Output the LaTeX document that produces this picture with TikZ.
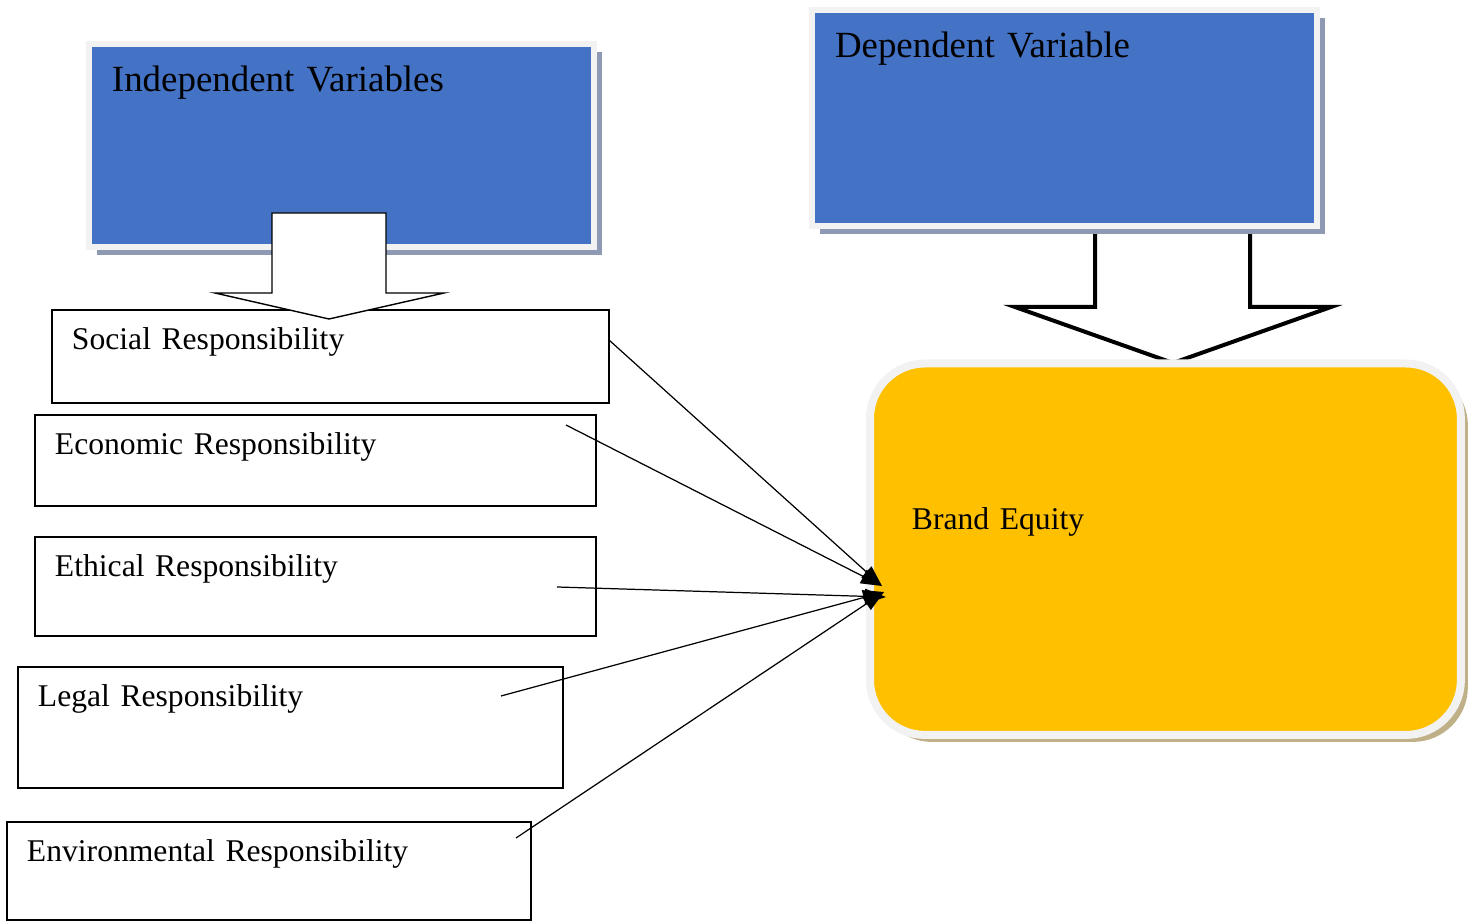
\documentclass[tikz,border=0pt]{standalone}
\usepackage{fontspec}
\setmainfont{Liberation Serif}
\usetikzlibrary{shadows,arrows.meta}

\definecolor{varblue}{HTML}{4472C4}
\definecolor{varshade}{HTML}{8E9AB4}
\definecolor{bandgray}{HTML}{F2F2F2}
\definecolor{beyellow}{HTML}{FFC000}
\definecolor{beshade}{HTML}{C0B088}

\begin{document}
\begin{tikzpicture}[x=0.02cm,y=-0.02cm,>={Triangle[length=0.42cm,width=0.3cm]}]
    \tikzset{resp/.style={draw,line width=0.7pt,fill=white,anchor=north west,outer sep=0pt,align=left,inner xsep=0.4cm,inner ysep=0pt,text height=0.8cm,font=\fontsize{18}{22}\selectfont}}
    \tikzset{var/.style={draw=bandgray,line width=0.13cm,fill=varblue,anchor=north west,outer sep=0pt,align=left,inner xsep=0.46cm,inner ysep=0pt,text height=0.96cm,text width=9.18cm,font=\fontsize{21}{25}\selectfont,drop shadow={shadow xshift=0.16cm,shadow yshift=-0.16cm,fill=varshade,opacity=1}}}
    \tikzset{bigarrow/.style={draw,fill=white,line join=miter}}
    \useasboundingbox (0,0) rectangle (1472,922);

    % dependent side
    \draw[bigarrow,line width=0.08cm] (1095,225) -- (1095,307) -- (1015,307) -- (1173,363) -- (1331,307) -- (1250,307) -- (1250,225);
    \node[var,text depth=3.36cm] (dv) at (812,10) {Dependent Variable};
    \node[draw=bandgray,line width=0.16cm,fill=beyellow,rounded corners=1.1cm,anchor=north west,outer sep=0pt,align=left,inner xsep=0.84cm,inner ysep=0pt,text width=10.14cm,text height=3.33cm,text depth=4.1cm,font=\fontsize{18}{22}\selectfont,drop shadow={shadow xshift=0.14cm,shadow yshift=-0.14cm,fill=beshade,opacity=1}] (be) at (870,363.5) {Brand Equity};

    % independent side
    \node[var,text depth=3.1cm] (iv) at (89,44) {Independent Variables};
    \node[resp,text width=10.34cm,text depth=1.06cm] (soc) at (52,310) {Social Responsibility};
    \node[resp,text width=10.42cm,text depth=1.02cm] (eco) at (35,415) {Economic Responsibility};
    \node[resp,text width=10.42cm,text depth=1.18cm] (eth) at (35,537) {Ethical Responsibility};
    \node[resp,text width=10.10cm,text depth=1.62cm] (leg) at (18,667) {Legal Responsibility};
    \node[resp,text width=9.68cm,text depth=1.16cm] (env) at (7,822) {Environmental Responsibility};
    \draw[bigarrow,line width=0.8pt] (272,213) -- (386,213) -- (386,293) -- (444,293) -- (329,319) -- (215,293) -- (272,293) -- cycle;

    \coordinate (tiphi) at (882,586);
    \coordinate (tipmid) at (886,597);
    \coordinate (tiplo) at (884,592);
    \coordinate (socout) at (609,340);
    \coordinate (ecoout) at (566,425);
    \coordinate (ethout) at (557,587);
    \coordinate (legout) at (501,696);
    \coordinate (envout) at (516,838);
    \path[->,line width=0.7pt]
    (socout) edge (tiphi)
    (ecoout) edge (tiphi)
    (ethout) edge (tipmid)
    (legout) edge (tiplo)
    (envout) edge (tiplo)
    ;
\end{tikzpicture}
\end{document}
